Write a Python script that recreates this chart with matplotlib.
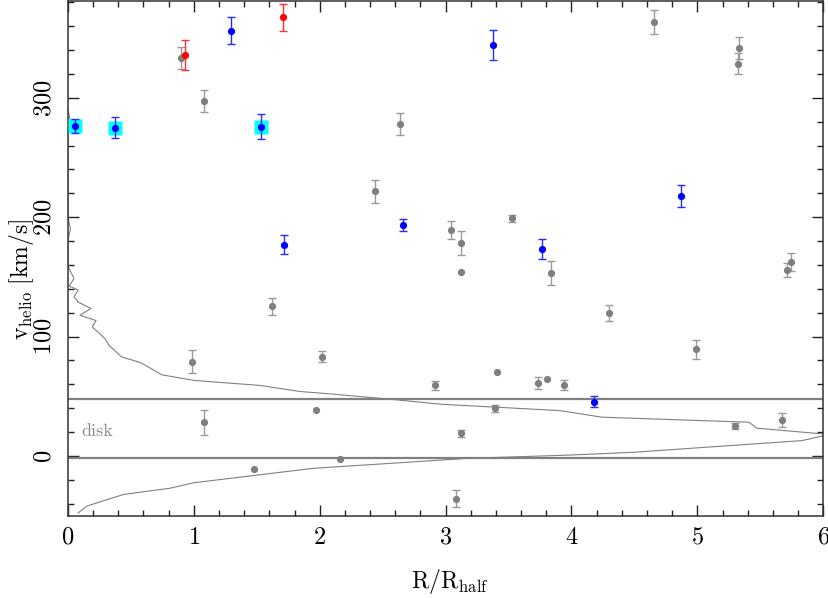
import matplotlib
matplotlib.use("Agg")
import matplotlib.pyplot as plt
import numpy as np
from matplotlib.ticker import MultipleLocator

plt.rcParams['font.family'] = ['cmr10', 'DejaVu Serif']
plt.rcParams['mathtext.fontset'] = 'cm'
plt.rcParams['axes.formatter.use_mathtext'] = True

# field stars (gray)
gray_r = [0.898, 1.079, 0.988, 1.081, 1.478, 1.619, 1.971, 2.019, 2.160, 2.440,
          2.634, 2.917, 3.042, 3.079, 3.121, 3.121, 3.124, 3.394, 3.410, 3.524,
          3.731, 3.805, 3.837, 3.940, 4.295, 4.656, 4.987, 5.297, 5.323, 5.331,
          5.670, 5.716, 5.742]
gray_v = [333.3, 297.5, 79.0, 28.3, -10.6, 125.2, 38.7, 83.2, -2.5, 221.6,
          278.0, 59.1, 189.0, -35.6, 178.4, 154.4, 19.0, 39.8, 70.3, 198.9,
          61.0, 64.4, 153.2, 59.4, 119.9, 363.3, 89.3, 25.2, 328.6, 341.8,
          30.0, 156.0, 162.4]
gray_err = [9.5, 9.4, 9.7, 10.4, 0, 7.0, 0, 4.8, 0, 9.8,
            9.0, 4.0, 7.7, 7.0, 10.2, 0, 3.0, 3.0, 0, 3.0,
            5.2, 0, 10.2, 4.5, 6.7, 10.0, 7.7, 2.5, 8.5, 9.0,
            5.6, 6.0, 7.7]

# members (blue)
blue_r = [0.058, 0.371, 1.293, 1.534, 1.717, 2.660, 3.376, 3.763, 4.181, 4.870]
blue_v = [276.5, 275.0, 356.3, 275.9, 177.0, 193.5, 344.5, 173.4, 45.6, 217.6]
blue_err = [6.0, 8.5, 11.2, 10.8, 7.7, 4.7, 12.6, 8.3, 4.5, 9.0]

# highlighted members (cyan squares)
cyan_r = [0.058, 0.371, 1.534]
cyan_v = [276.5, 275.0, 275.9]

# red
red_r = [0.927, 1.709]
red_v = [335.6, 367.5]
red_err = [12.6, 11.3]

# disk velocity distribution (model), drawn sideways
dist_n = [0.082, 0.148, 0.44, 0.81, 1.0, 1.95, 3.17, 3.99, 4.49, 5.83, 6.05,
          5.474, 5.408, 4.242, 3.91, 2.957, 2.613, 2.109, 1.844, 1.526, 1.0,
          0.745, 0.652, 0.572, 0.427, 0.328, 0.294, 0.193, 0.223, 0.095, 0.183,
          0.082, 0.048, 0.082, 0.008, 0.048, 0.0, 0.0, 0.02, 0.0, 0.0, 0.02, 0.0]
dist_v = [-47.6, -42.0, -32.2, -27.0, -22.4, -10.3, -2.0, 0.8, 3.1, 12.9, 18.0,
          23.3, 28.3, 32.5, 38.0, 43.4, 47.0, 51.8, 54.0, 59.1, 63.3,
          68.0, 73.7, 78.4, 82.9, 92.4, 98.3, 108.1, 113.4, 117.9, 123.5,
          128.8, 133.4, 139.0, 142.3, 148.5, 159.0, 181.0, 190.0, 200.0, 270.0, 280.0, 290.0]

disk_lo, disk_hi = -1.7, 47.5

fig = plt.figure(figsize=(8.29, 5.98), dpi=100)
ax = fig.add_axes([0.082, 0.1376, 0.911, 0.8607])

ax.plot(dist_n, dist_v, color='#808080', lw=0.8, zorder=2)
ax.axhline(disk_lo, color='#808080', lw=1.6, zorder=2)
ax.axhline(disk_hi, color='#808080', lw=1.6, zorder=2)
ax.text(0.11, 21, 'disk', color='#888888', fontsize=13, va='center', ha='left')

gray_r = np.array(gray_r)
gray_v = np.array(gray_v)
gray_err = np.array(gray_err)
has_err = gray_err > 0
ax.errorbar(gray_r[has_err], gray_v[has_err], yerr=gray_err[has_err], fmt='none',
            ecolor='#9a9a9a', elinewidth=1.0, capsize=2.8, capthick=1.0, zorder=3)
ax.plot(gray_r, gray_v, 'o', color='#7f7f7f', ms=5.2, mec='none', zorder=4)

ax.plot(cyan_r, cyan_v, 's', color='#00ffff', ms=9.5, mec='none', zorder=4)
ax.errorbar(blue_r, blue_v, yerr=blue_err, fmt='none', ecolor='#2a2aff',
            elinewidth=1.0, capsize=2.8, capthick=1.0, zorder=5)
ax.plot(blue_r, blue_v, 'o', color='#0000ff', ms=5.2, mec='none', zorder=6)

ax.errorbar(red_r, red_v, yerr=red_err, fmt='none', ecolor='#ff3030',
            elinewidth=1.0, capsize=2.8, capthick=1.0, zorder=5)
ax.plot(red_r, red_v, 'o', color='#ff0000', ms=5.2, mec='none', zorder=6)

ax.set_xlim(0, 6)
ax.set_ylim(-50, 381)
ax.xaxis.set_major_locator(MultipleLocator(1))
ax.xaxis.set_minor_locator(MultipleLocator(0.2))
ax.yaxis.set_major_locator(MultipleLocator(100))
ax.yaxis.set_minor_locator(MultipleLocator(20))
ax.tick_params(which='both', direction='in', top=True, right=True, width=1.0,
               color='#222222', labelsize=17.5)
ax.tick_params(which='major', length=7.7)
ax.tick_params(which='minor', length=4.0)
ax.tick_params(axis='x', pad=8)
ax.tick_params(axis='y', pad=9)
for lab in ax.get_yticklabels():
    lab.set_rotation(90)
    lab.set_va('center')

for s in ax.spines.values():
    s.set_linewidth(1.1)
    s.set_color('#333333')

ax.set_xlabel(r'$\mathrm{R/R_{half}}$', fontsize=17)
ax.set_ylabel(r'$\mathrm{v_{helio}}\ \mathrm{[km/s]}$', fontsize=17)
ax.xaxis.set_label_coords(0.506, -0.100)
ax.yaxis.set_label_coords(-0.042, 0.46)

fig.savefig('out.png', dpi=100)
